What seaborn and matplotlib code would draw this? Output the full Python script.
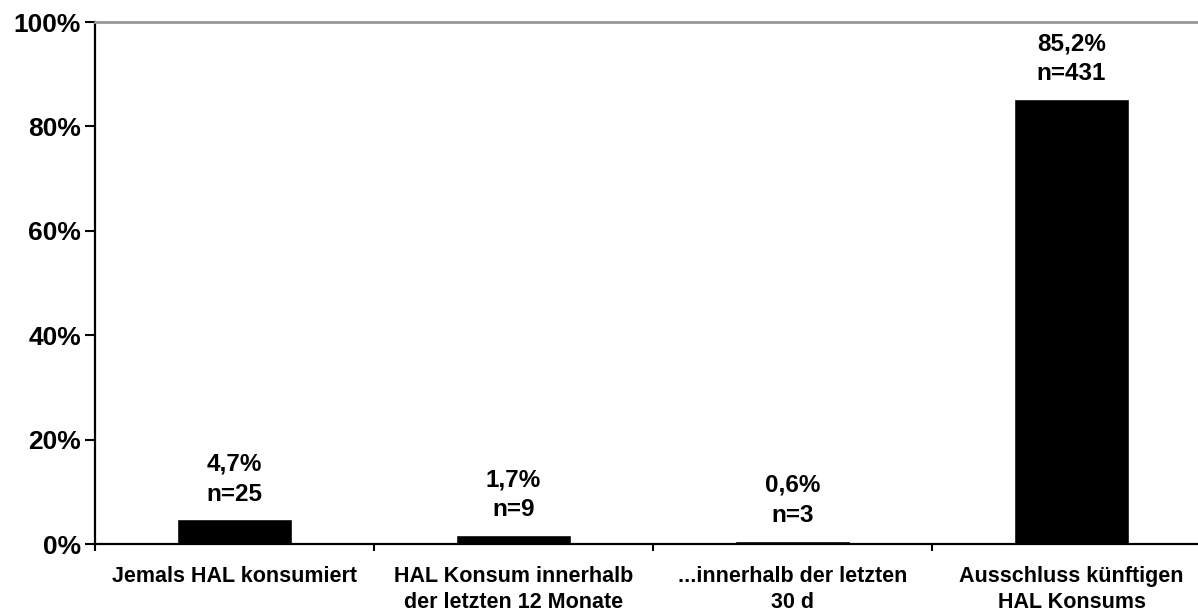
import pandas as pd
import matplotlib.pyplot as plt
import seaborn as sns

kategorien = ["Jemals HAL konsumiert",
              "HAL Konsum innerhalb\nder letzten 12 Monate",
              "...innerhalb der letzten\n30 d",
              "Ausschluss künftigen\nHAL Konsums"]
anteile = [4.7, 1.7, 0.6, 85.2]
anzahl = [25, 9, 3, 431]
y_ticks = [0, 20, 40, 60, 80, 100]

df = pd.DataFrame({"kategorie": kategorien, "anteil": anteile, "n": anzahl})

sns.set_style("white")
plt.rcParams['font.family'] = ['Liberation Sans', 'DejaVu Sans']
plt.rcParams['font.weight'] = 'bold'
plt.rcParams['text.color'] = 'black'
plt.rcParams['xtick.color'] = 'black'
plt.rcParams['ytick.color'] = 'black'

fig = plt.figure(figsize=(11.98, 6.11), dpi=100)
ax = fig.add_axes([95 / 1198, 67 / 611, 1116 / 1198, 522 / 611])

sns.barplot(data=df, x="kategorie", y="anteil", color="black", width=0.415,
            saturation=1, ax=ax)

ax.set_ylim(0, 100)
ax.set_xlim(-0.5, 3.5)
ax.set_yticks(y_ticks)
ax.set_yticklabels([f"{v}%" for v in y_ticks], fontsize=19, fontweight="bold")

# labels in the middle, tick marks on the category borders
ax.set_xticks(range(len(kategorien)))
ax.set_xticklabels(kategorien, fontsize=15.5, fontweight="bold", linespacing=1.3)
ax.tick_params(axis="x", which="major", length=0, pad=16)
ax.set_xticks([-0.5, 0.5, 1.5, 2.5, 3.5], minor=True)
ax.tick_params(axis="x", which="minor", length=5, width=1.5, color="black",
               direction="out", bottom=True)
ax.tick_params(axis="y", length=7, width=1.5, color="black", direction="out",
               left=True, pad=3)

ax.set_xlabel("")
ax.set_ylabel("")

for i, row in df.iterrows():
    txt = f"{row['anteil']:.1f}%".replace(".", ",") + f"\nn={row['n']}"
    ax.annotate(txt, (i, row["anteil"]), xytext=(0, 10), textcoords="offset points",
                ha="center", va="bottom", fontsize=17.5, fontweight="bold",
                linespacing=1.4)

for side in ["left", "bottom"]:
    ax.spines[side].set_color("black")
    ax.spines[side].set_linewidth(1.6)
ax.spines["top"].set_color("#999999")
ax.spines["top"].set_linewidth(2)
ax.spines["right"].set_visible(False)

plt.savefig("out.png", dpi=100)
